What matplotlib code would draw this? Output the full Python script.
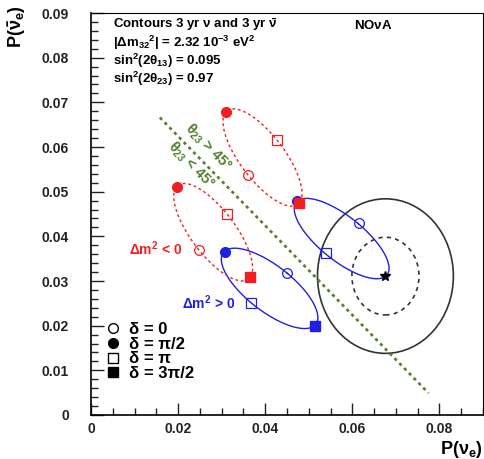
import numpy as np
import matplotlib
matplotlib.use("Agg")
import matplotlib.pyplot as plt
from matplotlib.lines import Line2D
from matplotlib.patches import Ellipse

plt.rcParams['font.family'] = ['Liberation Sans', 'DejaVu Sans']
plt.rcParams['mathtext.fontset'] = 'custom'
plt.rcParams['mathtext.rm'] = 'Liberation Sans:bold'
plt.rcParams['mathtext.bf'] = 'Liberation Sans:bold'
plt.rcParams['mathtext.it'] = 'Liberation Sans:bold'

# ---- data (order of points: delta = 0, pi/2, pi, 3pi/2) ----
delta_labels = ['0', 'π/2', 'π', '3π/2']
nh_upper_x = [0.0615, 0.0472, 0.0539, 0.0676]
nh_upper_y = [0.0429, 0.0478, 0.0362, 0.0311]
nh_lower_x = [0.0450, 0.0308, 0.0368, 0.0514]
nh_lower_y = [0.0318, 0.0366, 0.0251, 0.0199]
ih_upper_x = [0.0361, 0.0309, 0.0427, 0.0478]
ih_upper_y = [0.0537, 0.0678, 0.0616, 0.0475]
ih_lower_x = [0.0247, 0.0197, 0.0312, 0.0366]
ih_lower_y = [0.0369, 0.0511, 0.0449, 0.0308]

best_fit = (0.0676, 0.0311)
contour_1sigma = (0.0077, 0.0087)   # half-widths (x, y)
contour_2sigma = (0.0156, 0.0173)

octant_line_x = [0.0158, 0.0775]
octant_line_y = [0.0666, 0.0049]

xticks = [0, 0.02, 0.04, 0.06, 0.08]
yticks = [0, 0.01, 0.02, 0.03, 0.04, 0.05, 0.06, 0.07, 0.08, 0.09]

RED = '#f02020'
BLUE = '#2020e0'
GREEN = '#557f2c'

W, H = 485, 459
fig = plt.figure(figsize=(W/100, H/100), dpi=100)
ax = fig.add_axes([91/W, 1-415/H, (483-91)/W, (415-13)/H])
ax.set_xlim(0, 0.09)
ax.set_ylim(0, 0.09)


def ellipse_curve(xs, ys):
    xs = np.asarray(xs); ys = np.asarray(ys)
    cx, cy = xs.mean(), ys.mean()
    ax_, ay_ = (xs[0]-xs[2])/2, (ys[0]-ys[2])/2
    bx_, by_ = (xs[1]-xs[3])/2, (ys[1]-ys[3])/2
    d = np.linspace(0, 2*np.pi, 300)
    return cx + ax_*np.cos(d) + bx_*np.sin(d), cy + ay_*np.cos(d) + by_*np.sin(d)


def draw_set(xs, ys, color, ls, lw, star_last=False):
    cxs, cys = ellipse_curve(xs, ys)
    ax.plot(cxs, cys, color=color, ls=ls, lw=lw, zorder=3)
    ms = 7
    ax.plot(xs[0], ys[0], 'o', mfc='none', mec=color, ms=ms, mew=0.9, zorder=5)
    ax.plot(xs[1], ys[1], 'o', mfc=color, mec=color, ms=ms, zorder=5)
    ax.plot(xs[2], ys[2], 's', mfc='none', mec=color, ms=ms, mew=0.9, zorder=5)
    if not star_last:
        ax.plot(xs[3], ys[3], 's', mfc=color, mec=color, ms=ms, zorder=6)


# contours
for (rx, ry), ls in [(contour_2sigma, '-'), (contour_1sigma, (0, (2.5, 2.5)))]:
    ax.add_patch(Ellipse(best_fit, 2*rx, 2*ry, fill=False, ec='#333333',
                         lw=1.2, ls=ls, zorder=2))

draw_set(nh_upper_x, nh_upper_y, BLUE, '-', 1.0, star_last=True)
draw_set(nh_lower_x, nh_lower_y, BLUE, '-', 1.0)
draw_set(ih_upper_x, ih_upper_y, RED, (0, (2, 2)), 1.0)
draw_set(ih_lower_x, ih_lower_y, RED, (0, (2, 2)), 1.0)
ax.plot(*best_fit, marker='*', color='black', ms=7, zorder=7)

# octant line
ax.plot(octant_line_x, octant_line_y, color=GREEN, lw=1.9, ls=(0, (1.2, 1.4)), zorder=2)
ax.text(0.0270, 0.0600, r'$\theta_{23}$ > 45°', color=GREEN, fontsize=10.5, fontweight='bold',
        rotation=-45.5, rotation_mode='anchor', ha='center', va='center')
ax.text(0.0229, 0.0560, r'$\theta_{23}$ < 45°', color=GREEN, fontsize=10.5, fontweight='bold',
        rotation=-45.5, rotation_mode='anchor', ha='center', va='center')

ax.text(0.0209, 0.0372, r'$\Delta$m$^2$ < 0', color=RED, fontsize=10, fontweight='bold',
        ha='right', va='center')
ax.text(0.0210, 0.0251, r'$\Delta$m$^2$ > 0', color=BLUE, fontsize=10, fontweight='bold',
        ha='left', va='center')

# header text
ax.text(0.0050, 0.0873, r'Contours 3 yr $\nu$ and 3 yr $\bar{\nu}$', fontsize=9.5,
        fontweight='bold', va='center')
ax.text(0.0050, 0.0832, r'|$\Delta$m$_{32}$$^2$| = 2.32 10$^{-3}$ eV$^2$', fontsize=9.5,
        fontweight='bold', va='center')
ax.text(0.0050, 0.0792, r'sin$^2$(2$\theta_{13}$) = 0.095', fontsize=9.5,
        fontweight='bold', va='center')
ax.text(0.0050, 0.0752, r'sin$^2$(2$\theta_{23}$) = 0.97', fontsize=9.5,
        fontweight='bold', va='center')
ax.text(0.0603, 0.0873, r'NO$\nu$A', fontsize=9.5, fontweight='bold', va='center')

# legend
handles = [
    Line2D([], [], ls='none', marker='o', mfc='none', mec='black', ms=7),
    Line2D([], [], ls='none', marker='o', mfc='black', mec='black', ms=7),
    Line2D([], [], ls='none', marker='s', mfc='none', mec='black', ms=7),
    Line2D([], [], ls='none', marker='s', mfc='black', mec='black', ms=7),
]
labels = ['δ = ' + d for d in delta_labels]
ax.legend(handles, labels, loc='upper left', bbox_to_anchor=(0.018, 0.252),
          frameon=False, handlelength=0.8, handletextpad=0.55, labelspacing=-0.02,
          borderpad=0, prop={'weight': 'bold', 'size': 12})

# axes styling
ax.set_xticks(xticks)
ax.set_yticks(yticks)
ax.set_xticklabels(['0' if v == 0 else f'{v:.2f}' for v in xticks])
ax.set_yticklabels(['0' if v == 0 else f'{v:.2f}' for v in yticks])
ax.xaxis.set_minor_locator(matplotlib.ticker.MultipleLocator(0.005))
ax.yaxis.set_minor_locator(matplotlib.ticker.MultipleLocator(0.002))
ax.tick_params(which='both', direction='in', top=False, right=False, width=1.0, color='#222222')
ax.tick_params(which='major', length=9)
ax.tick_params(which='minor', length=5)
ax.tick_params(axis='x', pad=5, labelsize=10)
ax.tick_params(axis='y', pad=16, labelsize=10)
for lab in ax.get_xticklabels() + ax.get_yticklabels():
    lab.set_fontweight('bold')
    lab.set_color('#222222')
for s in ['left', 'bottom']:
    ax.spines[s].set_linewidth(1.2)
for s in ['top', 'right']:
    ax.spines[s].set_linewidth(0.8)

fig.text(483/W, 1-450/H, r'P($\nu_e$)', fontsize=13, fontweight='bold', ha='right', va='center')
fig.text(17/W, 1-5/H, r'P($\bar{\nu}_e$)', fontsize=13, fontweight='bold', ha='center',
         va='top', rotation=90)

fig.savefig('out.png', dpi=100)
